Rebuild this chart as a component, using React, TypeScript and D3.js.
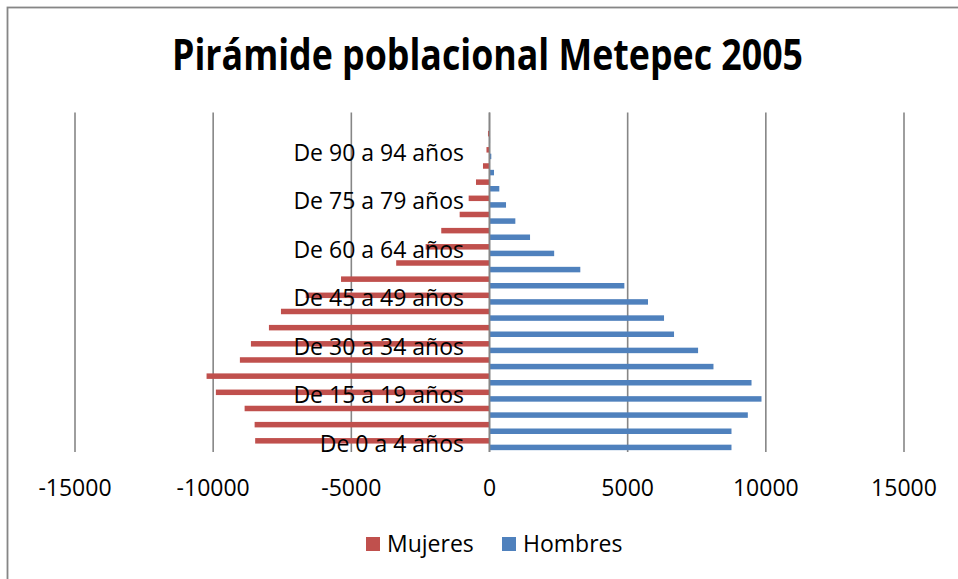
import React from "react";
import * as d3 from "d3";

const categories = [
  "De 0 a 4 años", "De 5 a 9 años", "De 10 a 14 años", "De 15 a 19 años",
  "De 20 a 24 años", "De 25 a 29 años", "De 30 a 34 años", "De 35 a 39 años",
  "De 40 a 44 años", "De 45 a 49 años", "De 50 a 54 años", "De 55 a 59 años",
  "De 60 a 64 años", "De 65 a 69 años", "De 70 a 74 años", "De 75 a 79 años",
  "De 80 a 84 años", "De 85 a 89 años", "De 90 a 94 años", "De 95 a 99 años",
  "De 100 años y más",
];

const hombres = [
  8757, 8757, 9348, 9843, 9482, 8105, 7548, 6678, 6316, 5736, 4880, 3286,
  2340, 1467, 935, 598, 355, 163, 65, 20, 6,
];

const mujeres = [
  -8480, -8500, -8862, -9902, -10239, -9033, -8634, -7982, -7547, -6650, -5373,
  -3377, -2312, -1746, -1080, -754, -489, -236, -110, -55, -12,
];

const xTicks = [-15000, -10000, -5000, 0, 5000, 10000, 15000];
const labeledIdx = [0, 3, 6, 9, 12, 15, 18];

const W = 958;
const H = 579;
const RED = "#C0504D";
const BLUE = "#4F81BD";
const GRID = "#868686";
const FONT = "'Open Sans', 'DejaVu Sans', sans-serif";

export default function App() {
  const x = d3.scaleLinear().domain([-15000, 15000]).range([75, 904]);
  const y = d3
    .scaleBand<string>()
    .domain(categories)
    .range([452, 112.5])
    .paddingInner(0)
    .paddingOuter(0);
  const bh = 5.5;
  const x0 = x(0);
  const top = 112.5;
  const bottom = 452;

  return (
    <svg
      width={W}
      height={H}
      style={{ position: "absolute", left: 0, top: 0, background: "#fff" }}
    >
      <rect x={0} y={0} width={W} height={H} fill="#fff" />
      <rect
        x={7.5}
        y={7.5}
        width={W + 20}
        height={H + 20}
        fill="#fff"
        stroke={GRID}
        strokeWidth={1.8}
      />
      <text
        x={487.5}
        y={70}
        textAnchor="middle"
        fontFamily={FONT}
        fontWeight="bold"
        fontSize={43}
        textLength={631}
        lengthAdjust="spacingAndGlyphs"
        fill="#000"
      >
        Pirámide poblacional Metepec 2005
      </text>

      {xTicks.map((t) => (
        <line
          key={"g" + t}
          x1={x(t)}
          x2={x(t)}
          y1={top}
          y2={bottom}
          stroke={GRID}
          strokeWidth={1.6}
        />
      ))}

      {categories.map((c, i) => {
        const cy = (y(c) as number) + y.bandwidth() / 2;
        const vm = mujeres[i];
        const vh = hombres[i];
        return (
          <g key={c}>
            <rect
              x={x(vm)}
              y={cy - 3.1 - bh / 2}
              width={x0 - x(vm)}
              height={bh}
              fill={RED}
            />
            <rect
              x={x0}
              y={cy + 3.5 - bh / 2}
              width={x(vh) - x0}
              height={bh}
              fill={BLUE}
            />
          </g>
        );
      })}

      <line x1={x0} x2={x0} y1={top} y2={bottom} stroke={GRID} strokeWidth={1.6} />

      {labeledIdx.map((i) => {
        const c = categories[i];
        const cy = (y(c) as number) + y.bandwidth() / 2;
        return (
          <text
            key={"l" + c}
            x={464}
            y={cy}
            dy="0.35em"
            textAnchor="end"
            fontFamily={FONT}
            fontSize={23}
            fill="#000"
          >
            {c}
          </text>
        );
      })}

      {xTicks.map((t) => (
        <text
          key={"t" + t}
          x={x(t)}
          y={488}
          dy="0.35em"
          textAnchor="middle"
          fontFamily={FONT}
          fontSize={23}
          fill="#000"
        >
          {t}
        </text>
      ))}

      <rect x={366} y={537} width={14} height={14} fill={RED} />
      <text x={387} y={544} dy="0.35em" fontFamily={FONT} fontSize={23} fill="#000">
        Mujeres
      </text>
      <rect x={502} y={537} width={14} height={14} fill={BLUE} />
      <text x={523} y={544} dy="0.35em" fontFamily={FONT} fontSize={23} fill="#000">
        Hombres
      </text>
    </svg>
  );
}
